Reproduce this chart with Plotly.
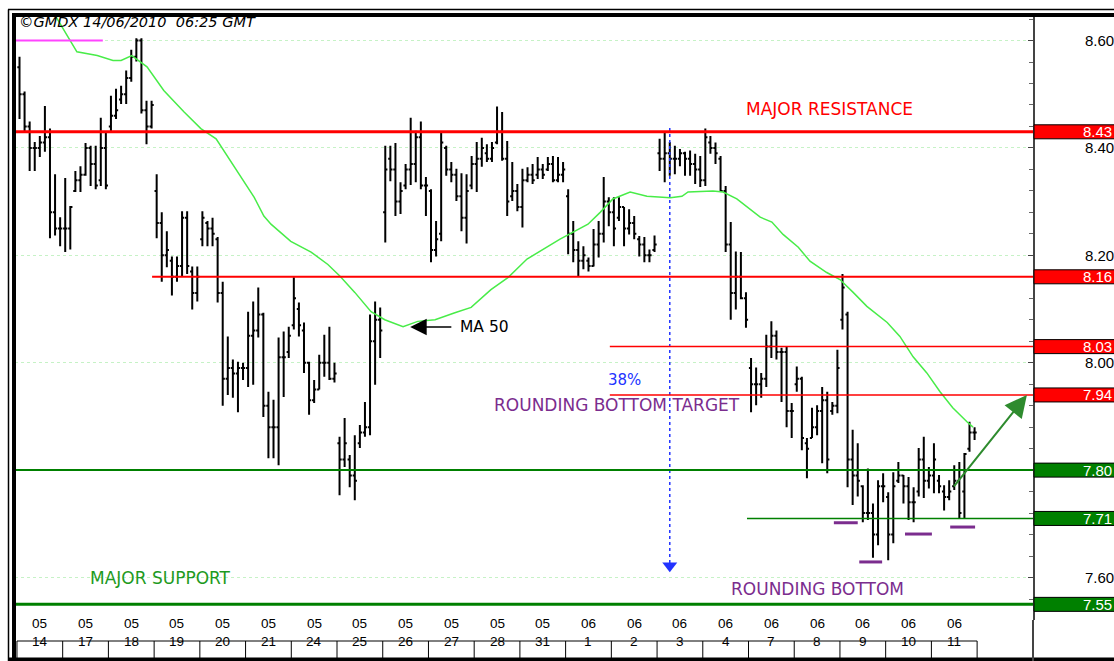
import plotly.graph_objects as go
import numpy as np

# ---------------- data ----------------
months = ["05"] * 12 + ["06"] * 9
days = ["14", "17", "18", "19", "20", "21", "24", "25", "26", "27", "28", "31",
        "1", "2", "3", "4", "7", "8", "9", "10", "11"]
bars_per_day = 9

opens = [
    8.55, 8.50, 8.44, 8.40, 8.40, 8.41, 8.42, 8.28, 8.25,
    8.25, 8.25, 8.32, 8.34, 8.35, 8.40, 8.37, 8.34, 8.40,
    8.44, 8.46, 8.49, 8.50, 8.53, 8.57, 8.60, 8.47, 8.44,
    8.32, 8.26, 8.20, 8.19, 8.16, 8.18, 8.27, 8.17, 8.13,
    8.23, 8.26, 8.25, 8.23, 8.13, 7.97, 7.99, 7.98, 7.99,
    7.99, 8.05, 8.06, 8.09, 7.92, 7.88, 7.88, 8.01, 8.02,
    8.07, 8.10, 8.06, 8.00, 7.93, 7.95, 8.00, 8.00, 7.97,
    7.85, 7.82, 7.82, 7.79, 7.85, 7.87, 7.88, 8.04, 8.08,
    8.28, 8.38, 8.36, 8.30, 8.33, 8.36, 8.37, 8.42, 8.33,
    8.32, 8.21, 8.24, 8.40, 8.36, 8.35, 8.31, 8.27, 8.33,
    8.37, 8.38, 8.39, 8.38, 8.41, 8.43, 8.38, 8.31, 8.32,
    8.29, 8.34, 8.35, 8.35, 8.36, 8.36, 8.37, 8.34, 8.35,
    8.31, 8.24, 8.21, 8.19, 8.19, 8.18, 8.22, 8.24, 8.30,
    8.28, 8.27, 8.29, 8.25, 8.26, 8.23, 8.22, 8.20, 8.21,
    8.39, 8.38, 8.39, 8.38, 8.38, 8.39, 8.38, 8.37, 8.36,
    8.34, 8.41, 8.40, 8.38, 8.32, 8.22, 8.13, 8.16, 8.12,
    7.99, 7.96, 7.96, 7.97, 8.03, 8.05, 8.02, 8.02, 7.91,
    7.96, 7.97, 7.85, 7.86, 7.88, 7.91, 7.93, 7.91, 7.92,
    8.08, 8.09, 7.82, 7.79, 7.77, 7.72, 7.72, 7.68, 7.77,
    7.75, 7.68, 7.78, 7.79, 7.77, 7.74, 7.76, 7.82, 7.78,
    7.79, 7.78, 7.76, 7.75, 7.77, 7.78, 7.76, 7.84, 7.87,
]
highs = [
    8.570, 8.505, 8.449, 8.411, 8.422, 8.478, 8.436, 8.351, 8.271,
    8.344, 8.292, 8.357, 8.366, 8.409, 8.404, 8.404, 8.456, 8.430,
    8.497, 8.510, 8.516, 8.544, 8.583, 8.604, 8.604, 8.488, 8.488,
    8.351, 8.280, 8.245, 8.198, 8.198, 8.282, 8.282, 8.179, 8.179,
    8.282, 8.264, 8.270, 8.234, 8.151, 8.049, 8.006, 8.002, 8.000,
    8.095, 8.114, 8.140, 8.093, 7.946, 7.931, 8.047, 8.058, 8.067,
    8.159, 8.112, 8.075, 8.002, 7.968, 8.015, 8.052, 8.067, 8.000,
    7.862, 7.897, 7.828, 7.865, 7.884, 7.927, 8.090, 8.114, 8.103,
    8.404, 8.404, 8.409, 8.336, 8.370, 8.456, 8.432, 8.449, 8.346,
    8.323, 8.264, 8.430, 8.404, 8.374, 8.361, 8.353, 8.351, 8.385,
    8.411, 8.419, 8.407, 8.411, 8.477, 8.467, 8.413, 8.374, 8.333,
    8.361, 8.364, 8.370, 8.383, 8.370, 8.383, 8.385, 8.383, 8.374,
    8.323, 8.264, 8.226, 8.217, 8.196, 8.249, 8.264, 8.346, 8.308,
    8.308, 8.308, 8.290, 8.286, 8.273, 8.236, 8.234, 8.211, 8.237,
    8.417, 8.430, 8.411, 8.404, 8.398, 8.393, 8.395, 8.389, 8.385,
    8.436, 8.422, 8.410, 8.385, 8.329, 8.262, 8.207, 8.206, 8.131,
    8.009, 7.991, 7.981, 8.052, 8.077, 8.060, 8.028, 8.030, 7.925,
    7.993, 7.974, 7.860, 7.916, 7.921, 7.955, 7.946, 7.927, 8.024,
    8.165, 8.095, 7.875, 7.850, 7.772, 7.803, 7.738, 7.781, 7.794,
    7.759, 7.796, 7.815, 7.791, 7.787, 7.768, 7.841, 7.862, 7.806,
    7.850, 7.791, 7.772, 7.781, 7.809, 7.815, 7.832, 7.890, 7.880,
]
lows = [
    8.454, 8.430, 8.357, 8.357, 8.383, 8.393, 8.232, 8.237, 8.217,
    8.206, 8.211, 8.318, 8.318, 8.348, 8.329, 8.323, 8.329, 8.323,
    8.430, 8.454, 8.482, 8.482, 8.523, 8.561, 8.464, 8.407, 8.436,
    8.232, 8.151, 8.178, 8.125, 8.151, 8.161, 8.165, 8.099, 8.114,
    8.217, 8.217, 8.217, 8.112, 7.920, 7.940, 7.935, 7.908, 7.968,
    7.955, 7.959, 8.047, 7.899, 7.822, 7.822, 7.809, 7.936, 8.009,
    8.062, 8.049, 7.981, 7.903, 7.925, 7.950, 7.974, 7.968, 7.963,
    7.753, 7.806, 7.768, 7.744, 7.841, 7.862, 7.865, 7.959, 8.009,
    8.224, 8.338, 8.273, 8.277, 8.323, 8.331, 8.336, 8.323, 8.273,
    8.187, 8.198, 8.226, 8.348, 8.336, 8.301, 8.245, 8.222, 8.323,
    8.318, 8.365, 8.374, 8.374, 8.407, 8.376, 8.273, 8.301, 8.282,
    8.252, 8.336, 8.333, 8.342, 8.342, 8.357, 8.336, 8.336, 8.336,
    8.202, 8.187, 8.161, 8.174, 8.170, 8.179, 8.196, 8.224, 8.254,
    8.217, 8.264, 8.217, 8.239, 8.230, 8.198, 8.187, 8.187, 8.206,
    8.357, 8.336, 8.348, 8.351, 8.366, 8.348, 8.348, 8.333, 8.327,
    8.329, 8.389, 8.370, 8.318, 8.206, 8.080, 8.099, 8.118, 8.065,
    7.908, 7.921, 7.935, 7.955, 8.009, 8.006, 7.927, 7.880, 7.860,
    7.946, 7.837, 7.785, 7.860, 7.865, 7.813, 7.794, 7.903, 7.906,
    8.062, 7.768, 7.735, 7.751, 7.703, 7.707, 7.637, 7.660, 7.740,
    7.632, 7.664, 7.776, 7.738, 7.707, 7.703, 7.751, 7.748, 7.766,
    7.757, 7.757, 7.725, 7.744, 7.763, 7.710, 7.710, 7.834, 7.856,
]
closes = [
    8.50, 8.44, 8.40, 8.40, 8.41, 8.42, 8.28, 8.25, 8.25,
    8.25, 8.29, 8.34, 8.35, 8.40, 8.37, 8.33, 8.40, 8.33,
    8.46, 8.47, 8.50, 8.53, 8.57, 8.60, 8.47, 8.44, 8.48,
    8.26, 8.20, 8.21, 8.16, 8.18, 8.27, 8.18, 8.13, 8.16,
    8.27, 8.25, 8.24, 8.13, 7.97, 7.99, 7.98, 7.99, 7.99,
    8.05, 8.06, 8.09, 7.92, 7.88, 7.88, 8.01, 8.01, 8.05,
    8.12, 8.07, 8.00, 7.93, 7.95, 8.00, 8.00, 7.97, 7.98,
    7.82, 7.85, 7.79, 7.78, 7.87, 7.88, 8.04, 8.08, 8.06,
    8.36, 8.36, 8.30, 8.32, 8.36, 8.37, 8.42, 8.33, 8.33,
    8.21, 8.23, 8.41, 8.36, 8.35, 8.31, 8.27, 8.32, 8.37,
    8.38, 8.40, 8.38, 8.40, 8.43, 8.38, 8.30, 8.32, 8.29,
    8.34, 8.35, 8.34, 8.36, 8.35, 8.37, 8.34, 8.35, 8.36,
    8.24, 8.21, 8.19, 8.20, 8.18, 8.22, 8.24, 8.30, 8.28,
    8.25, 8.29, 8.25, 8.26, 8.24, 8.22, 8.20, 8.20, 8.22,
    8.38, 8.39, 8.38, 8.38, 8.39, 8.38, 8.37, 8.36, 8.34,
    8.42, 8.40, 8.39, 8.32, 8.22, 8.13, 8.16, 8.12, 8.08,
    7.96, 7.96, 7.97, 8.03, 8.05, 8.02, 8.02, 7.91, 7.91,
    7.97, 7.86, 7.84, 7.88, 7.91, 7.93, 7.82, 7.92, 7.99,
    8.14, 7.82, 7.79, 7.78, 7.72, 7.72, 7.68, 7.77, 7.77,
    7.68, 7.77, 7.79, 7.77, 7.74, 7.74, 7.82, 7.78, 7.79,
    7.82, 7.77, 7.75, 7.76, 7.78, 7.72, 7.83, 7.87, 7.87,
]

# 50-period moving average (bar index, value)
ma_index = [6.5, 11.3, 15.3, 18.4, 20, 22.1, 25.1, 28.4, 32.4, 35.7, 38.7, 41.6, 46.2,
            48.1, 49.5, 53.4, 57.4, 60.7, 63.1, 66, 69.2, 71.9, 75.5, 78.4, 81.8, 85.7,
            88.9, 92.8, 96.2, 99.9, 103, 106.4, 111.9, 114.3, 116.8, 120.2, 123.5, 128.1,
            130.4, 131.6, 136.5, 138.5, 141.2, 143.8, 145.8, 148.1, 150.3, 153.3, 155.6,
            158.9, 161.5, 164.1, 166.8, 170.8, 173.3, 175.9, 178.6, 181.2, 183.7, 186.5, 187.7]
ma_value = [8.655, 8.579, 8.572, 8.563, 8.563, 8.572, 8.551, 8.507, 8.467, 8.436, 8.417,
            8.374, 8.308, 8.273, 8.258, 8.226, 8.206, 8.183, 8.161, 8.131, 8.095, 8.080,
            8.067, 8.077, 8.080, 8.093, 8.103, 8.136, 8.159, 8.193, 8.211, 8.230, 8.258,
            8.280, 8.305, 8.318, 8.310, 8.307, 8.310, 8.318, 8.320, 8.318, 8.305, 8.286,
            8.271, 8.262, 8.239, 8.215, 8.189, 8.168, 8.155, 8.131, 8.105, 8.075, 8.049,
            8.011, 7.981, 7.946, 7.916, 7.890, 7.880]

# key price levels
level_values = [8.43, 8.16, 8.03, 7.94, 7.80, 7.71, 7.55]
level_kind = ["res", "res", "res", "res", "sup", "sup", "sup"]
level_start = [None, 26.1, 116.2, 116.2, None, 143.2, None]   # bar index where line begins
level_width = [3, 2, 1.5, 1.5, 2, 1.5, 3]

# rounding-bottom lows markers (start idx, end idx, value)
rb_marks = [(160.3, 165.0, 7.702), (165.3, 169.8, 7.629), (174.3, 179.6, 7.681), (183.2, 188.1, 7.694)]

# ---------------- layout helpers ----------------
W, H = 1114, 661
ML, MR, MT, MB = 15, 81, 17, 41
PW, PH = W - ML - MR, H - MT - MB
XR = [-0.886, 199.5]
YR = [7.5209, 8.6438]


def px(p):
    return (p - ML) / PW


def py(q):
    return (H - MB - q) / PH


RED = "#ff0000"
GREEN = "#008000"
PURPLE = "#7b2d8e"
BLUE = "#2233ff"

n = len(highs)
xi = np.arange(n)

fig = go.Figure()

fig.add_trace(go.Ohlc(
    x=xi, open=opens, high=highs, low=lows, close=closes,
    increasing=dict(line=dict(color="black", width=2)),
    decreasing=dict(line=dict(color="black", width=2)),
    tickwidth=0.42, hoverinfo="skip", showlegend=False,
))

fig.add_trace(go.Scatter(
    x=ma_index, y=ma_value, mode="lines",
    line=dict(color="#48ec48", width=1.5), hoverinfo="skip", showlegend=False,
))

# blue dashed projection line with arrow head
fig.add_trace(go.Scatter(
    x=[128.0, 128.0], y=[8.437, 7.625], mode="lines",
    line=dict(color=BLUE, width=1.5, dash="dot"), hoverinfo="skip", showlegend=False,
))
fig.add_trace(go.Scatter(
    x=[128.0], y=[7.622], mode="markers",
    marker=dict(symbol="triangle-down", size=13, color=BLUE),
    hoverinfo="skip", showlegend=False,
))

shapes = []
annotations = []

# level lines + price boxes
for v, kind, st, lw in zip(level_values, level_kind, level_start, level_width):
    col = RED if kind == "res" else GREEN
    if st is None:
        shapes.append(dict(type="line", xref="paper", yref="y", x0=0, x1=1, y0=v, y1=v,
                           line=dict(color=col, width=lw), layer="above"))
    else:
        shapes.append(dict(type="line", xref="x", yref="y", x0=st, x1=XR[1], y0=v, y1=v,
                           line=dict(color=col, width=lw), layer="above"))
    hh = 7 / PH * (YR[1] - YR[0])
    shapes.append(dict(type="rect", xref="paper", yref="y", x0=px(1034), x1=px(1130),
                       y0=v - hh, y1=v + hh, fillcolor=col,
                       line=dict(color="black", width=1), layer="above"))
    annotations.append(dict(xref="paper", yref="y", x=px(1081), y=v, text=f"{v:.2f}",
                            showarrow=False, xanchor="left", yanchor="middle",
                            font=dict(family="Arial", size=15, color="white")))

# magenta marker line at top-left
shapes.append(dict(type="line", xref="x", yref="y", x0=XR[0], x1=16.4, y0=8.60, y1=8.60,
                   line=dict(color="#ff44ff", width=2), layer="above"))

# rounding bottom marks
for a, b, v in rb_marks:
    shapes.append(dict(type="line", xref="x", yref="y", x0=a, x1=b, y0=v, y1=v,
                       line=dict(color=PURPLE, width=3), layer="above"))

# day label boxes below the plot
ndays = len(days)
shapes.append(dict(type="line", xref="x", yref="paper",
                   x0=-0.5, x1=ndays * bars_per_day - 0.5, y0=py(641), y1=py(641),
                   line=dict(color="black", width=1)))
for d in range(ndays + 1):
    xb = d * bars_per_day - 0.5
    shapes.append(dict(type="line", xref="x", yref="paper", x0=xb, x1=xb,
                       y0=py(641), y1=py(658), line=dict(color="black", width=1)))
for d in range(ndays):
    xc = d * bars_per_day + (bars_per_day - 1) / 2
    annotations.append(dict(xref="x", yref="paper", x=xc, y=py(633), text=months[d],
                            showarrow=False, font=dict(family="Arial", size=13.5, color="black")))
    annotations.append(dict(xref="x", yref="paper", x=xc, y=py(651), text=days[d],
                            showarrow=False, font=dict(family="Arial", size=13.5, color="black")))

# frame
shapes += [
    dict(type="rect", xref="paper", yref="paper", x0=px(12), x1=px(1120), y0=py(17), y1=py(13),
         fillcolor="black", line=dict(width=0), layer="above"),
    dict(type="line", xref="paper", yref="paper", x0=px(8), x1=px(1120), y0=py(9.5), y1=py(9.5),
         line=dict(color="black", width=1.5), layer="above"),
    dict(type="rect", xref="paper", yref="paper", x0=px(12), x1=px(16), y0=py(665), y1=py(13),
         fillcolor="black", line=dict(width=0), layer="above"),
    dict(type="line", xref="paper", yref="paper", x0=px(8.5), x1=px(8.5), y0=py(665), y1=py(9.5),
         line=dict(color="black", width=1.5), layer="above"),
    dict(type="rect", xref="paper", yref="paper", x0=px(8), x1=px(1120), y0=py(665), y1=py(657.5),
         fillcolor="black", line=dict(width=0), layer="above"),
    dict(type="line", xref="paper", yref="paper", x0=1, x1=1, y0=py(661), y1=0,
         line=dict(color="#444", width=2), layer="above"),
]

# text annotations
TF = "DejaVu Sans"
annotations += [
    dict(xref="paper", yref="paper", x=px(17), y=py(22), text="©GMDX 14/06/2010  06:25 GMT",
         showarrow=False, xanchor="left", yanchor="middle",
         font=dict(family=TF, size=14.5, color="black", style="italic")),
    dict(xref="x", yref="y", x=159.4, y=8.4724, text="MAJOR RESISTANCE", showarrow=False,
         font=dict(family=TF, size=17, color=RED)),
    dict(xref="x", yref="y", x=86.3, y=8.0665, text="MA 50", showarrow=False, xanchor="left",
         font=dict(family=TF, size=15.5, color="black")),
    dict(xref="x", yref="y", x=76.9, y=8.0665, ax=85.3, ay=8.0665, axref="x", ayref="y",
         text="", showarrow=True, arrowhead=2, arrowsize=2.2, arrowwidth=1.5, arrowcolor="black"),
    dict(xref="x", yref="y", x=119.0, y=7.968, text="38%", showarrow=False,
         font=dict(family=TF, size=15, color=BLUE)),
    dict(xref="x", yref="y", x=117.6, y=7.921, text="ROUNDING BOTTOM TARGET", showarrow=False,
         font=dict(family=TF, size=17, color=PURPLE)),
    dict(xref="x", yref="y", x=27.7, y=7.599, text="MAJOR SUPPORT", showarrow=False,
         font=dict(family=TF, size=17, color="#1e9a1e")),
    dict(xref="x", yref="y", x=157.0, y=7.579, text="ROUNDING BOTTOM", showarrow=False,
         font=dict(family=TF, size=17, color=PURPLE)),
    dict(xref="x", yref="y", x=198.3, y=7.940, ax=183.7, ay=7.767, axref="x", ayref="y",
         text="", showarrow=True, arrowhead=2, arrowsize=2.2, arrowwidth=2, arrowcolor="#2e8b2e"),
]

fig.update_layout(
    width=W, height=H,
    margin=dict(l=ML, r=MR, t=MT, b=MB, pad=0, autoexpand=False),
    paper_bgcolor="white", plot_bgcolor="white",
    showlegend=False,
    xaxis=dict(range=XR, visible=False, rangeslider=dict(visible=False), fixedrange=True,
               automargin=False),
    yaxis=dict(side="right", range=YR, tick0=7.6, dtick=0.2, tickformat=".2f",
               ticks="inside", ticklen=5, tickcolor="#444", tickwidth=1,
               showline=True, linecolor="#444", linewidth=2,
               showgrid=True, gridcolor="#c6f2c6", griddash="dot", gridwidth=1,
               zeroline=False, ticklabelstandoff=47, automargin=False,
               tickfont=dict(family="Arial", size=15, color="black"),
               minor=dict(dtick=0.04, tick0=7.6, ticks="inside", ticklen=4,
                          tickcolor="#666", showgrid=False),
               fixedrange=True),
    shapes=shapes,
    annotations=annotations,
)

fig.write_html("out.html", config={"displayModeBar": False},
               post_script="document.body.style.margin='0';document.body.style.overflow='hidden';")
